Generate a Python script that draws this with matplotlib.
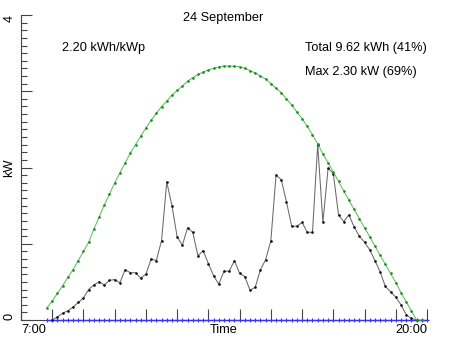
import numpy as np
import matplotlib
matplotlib.use("Agg")
import matplotlib.pyplot as plt
from matplotlib.ticker import MultipleLocator

plt.rcParams['font.family'] = ['Liberation Sans', 'DejaVu Sans']

# 10-minute samples, hours as decimals
STEP = 1.0 / 6.0

# clear-sky reference power (kW), 7:50 .. 19:50
clear_start = 7 + 50 / 60
clear_sky = [
    0.16, 0.25, 0.35, 0.45, 0.56, 0.66, 0.78,
    0.90, 1.02, 1.19, 1.35, 1.51, 1.65,
    1.80, 1.93, 2.06, 2.19, 2.30, 2.41,
    2.52, 2.62, 2.71, 2.80, 2.87, 2.95,
    3.01, 3.07, 3.13, 3.18, 3.22, 3.25,
    3.28, 3.30, 3.32, 3.33, 3.33, 3.33,
    3.32, 3.30, 3.27, 3.24, 3.20, 3.16,
    3.10, 3.04, 2.98, 2.90, 2.82, 2.73,
    2.64, 2.54, 2.43, 2.31, 2.18, 2.06,
    1.94, 1.82, 1.69, 1.57, 1.45, 1.33,
    1.21, 1.09, 0.97, 0.85, 0.73, 0.61,
    0.49, 0.36, 0.24, 0.12, 0.00, 0.00,
]

# measured PV output (kW), 8:00 .. 19:40
pv_start = 8.0
pv_power = [
    0.00, 0.04, 0.09, 0.12, 0.17, 0.23,
    0.29, 0.40, 0.46, 0.50, 0.46, 0.52,
    0.53, 0.49, 0.66, 0.62, 0.62, 0.55,
    0.60, 0.80, 0.78, 1.04, 1.81, 1.50,
    1.09, 0.98, 1.21, 1.15, 0.84, 0.91,
    0.74, 0.58, 0.47, 0.64, 0.64, 0.78,
    0.61, 0.57, 0.39, 0.43, 0.66, 0.79,
    1.04, 1.90, 1.84, 1.55, 1.23, 1.23,
    1.28, 1.15, 1.15, 2.30, 1.28, 1.99,
    1.92, 1.38, 1.29, 1.38, 1.22, 1.10,
    1.02, 0.92, 0.78, 0.63, 0.44, 0.37,
    0.30, 0.20, 0.07, 0.02, 0.00,
]

# baseline series (kW), 7:50 .. 20:00
base_start = 7 + 50 / 60
baseline = [0.0] * 74

x_ticklabels = ['7:00', 'Time', '20:00']
y_ticklabels = ['0', '', 'kW', '', '4']

title = '24 September'
yield_text = '2.20 kWh/kWp'
total_text = 'Total 9.62 kWh (41%)'
max_text = 'Max 2.30 kW (69%)'

t_clear = clear_start + STEP * np.arange(len(clear_sky))
t_pv = pv_start + STEP * np.arange(len(pv_power))
t_base = base_start + STEP * np.arange(len(baseline))

fig = plt.figure(figsize=(4.52, 3.39), dpi=100)
ax = fig.add_axes([21 / 452, 1 - 320 / 339, 406 / 452, 305 / 339])

ax.plot(t_base, baseline, color='#3333ff', lw=1.0, marker='+', ms=3.5,
        mew=0.8, zorder=3, clip_on=False)
ax.plot(t_pv, pv_power, color='#6a6a6a', lw=0.75, marker='.', ms=1.8,
        mfc='#111111', mec='#111111', zorder=4, clip_on=False)
ax.plot(t_clear, clear_sky, color='#5cc05c', lw=0.75, marker='.', ms=1.8,
        mfc='#1f8a1f', mec='#1f8a1f', zorder=5, clip_on=False)

ax.set_xlim(7, 20)
ax.set_ylim(0, 4)

for side in ('top', 'right'):
    ax.spines[side].set_visible(False)
for side in ('left', 'bottom'):
    ax.spines[side].set_linewidth(0.8)
    ax.spines[side].set_color('#444444')
    ax.spines[side].set_zorder(1)

# x axis: hourly marks, labels at both ends and a centred title
ax.set_xticks(np.arange(7, 21, 1))
ax.set_xticklabels([x_ticklabels[0]] + [''] * 12 + [x_ticklabels[2]])
ax.set_xticks([13.5], labels=[x_ticklabels[1]], minor=True)
ax.tick_params(axis='x', which='major', direction='in', length=8,
               width=0.8, color='#444444', pad=3, labelsize=9.2)
ax.tick_params(axis='x', which='minor', length=0, pad=3, labelsize=9.2)
xl = ax.get_xticklabels()
xl[0].set_ha('left')
xl[-1].set_ha('right')

# y axis: whole-kW marks, 0.1 kW minor marks, rotated labels
ax.set_yticks(np.arange(0, 5, 1))
ax.set_yticklabels(y_ticklabels, rotation=90)
ax.yaxis.set_minor_locator(MultipleLocator(0.1))
ax.tick_params(axis='y', which='major', direction='in', length=8,
               width=0.8, color='#444444', pad=4, labelsize=9.2)
ax.tick_params(axis='y', which='minor', direction='in', length=4,
               width=0.8, color='#444444')
yl = ax.get_yticklabels()
yl[0].set_va('bottom')
yl[2].set_va('center')
yl[4].set_va('top')

fig.text(223 / 452, 1 - 18 / 339, title, ha='center', va='center',
         fontsize=9.2)
fig.text(62 / 452, 1 - 48 / 339, yield_text, ha='left', va='center',
         fontsize=9.2)
fig.text(305 / 452, 1 - 48 / 339, total_text, ha='left', va='center',
         fontsize=9.2)
fig.text(305 / 452, 1 - 72 / 339, max_text, ha='left', va='center',
         fontsize=9.2)

fig.savefig('out.png', dpi=100)
